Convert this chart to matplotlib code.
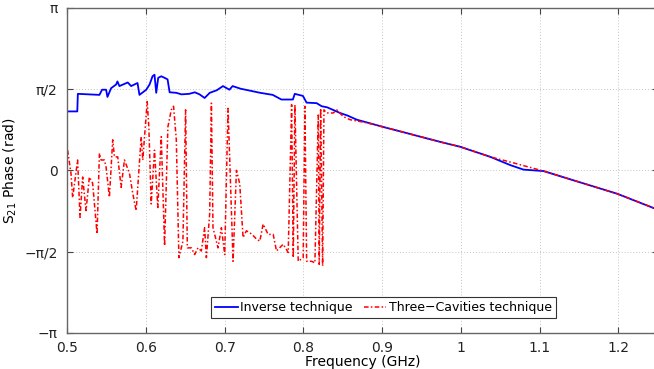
"""S21 phase: inverse technique vs three-cavities technique."""

import matplotlib.pyplot as plt
import numpy as np

# Inverse technique (GHz, rad)
inv_freq_ghz = [
    0.500, 0.5127, 0.5134, 0.5408, 0.5442, 0.5493, 0.5510, 0.5557, 0.5620,
    0.5637, 0.5662, 0.5768, 0.5811, 0.5892, 0.5917, 0.6003, 0.6045, 0.6083,
    0.6108, 0.6130, 0.6155, 0.6194, 0.6236, 0.6274, 0.6300, 0.6385, 0.6450,
    0.6550, 0.6620, 0.6680, 0.6745, 0.6810, 0.6900, 0.6978, 0.7060, 0.7100,
    0.7200, 0.7357, 0.7450, 0.7610, 0.7720, 0.7866, 0.7890, 0.7994, 0.8040,
    0.8168, 0.8232, 0.8300, 0.8376, 0.8465, 0.8560, 0.8678, 0.9013, 0.9739,
    0.9994, 1.0376, 1.0630, 1.0796, 1.1050, 1.1990, 1.2500,
]
inv_phase_rad = [
    1.14, 1.14, 1.48, 1.46, 1.56, 1.56, 1.42, 1.59, 1.66,
    1.72, 1.63, 1.70, 1.63, 1.69, 1.46, 1.56, 1.66, 1.82,
    1.85, 1.50, 1.79, 1.82, 1.79, 1.76, 1.51, 1.50, 1.47,
    1.48, 1.51, 1.47, 1.40, 1.50, 1.55, 1.63, 1.56, 1.63,
    1.58, 1.53, 1.50, 1.46, 1.37, 1.37, 1.48, 1.44, 1.31,
    1.30, 1.24, 1.22, 1.17, 1.11, 1.06, 0.98, 0.84, 0.55,
    0.455, 0.26, 0.10, 0.014, -0.014, -0.455, -0.76,
]

# Three-cavities technique (GHz, rad)
cav_freq_ghz = [
    0.5004, 0.5047, 0.5068, 0.5131, 0.5162, 0.5195, 0.5238, 0.5280, 0.5322,
    0.5378, 0.5408, 0.5429, 0.5471, 0.5493, 0.5535, 0.5577, 0.5599, 0.5641,
    0.5684, 0.5726, 0.5790, 0.5832, 0.5875, 0.5939, 0.5959, 0.6015, 0.6036,
    0.6066, 0.6108, 0.6150, 0.6194, 0.6236, 0.6278, 0.6321, 0.6350, 0.6385,
    0.6418, 0.6469, 0.6503, 0.6525, 0.6576, 0.6618, 0.6660, 0.6703, 0.6745,
    0.6767, 0.6809, 0.6831, 0.6851, 0.6915, 0.6958, 0.7000, 0.7042, 0.7064,
    0.7106, 0.7149, 0.7191, 0.7233, 0.7276, 0.7340, 0.7404, 0.7446, 0.7488,
    0.7552, 0.7616, 0.7658, 0.7743, 0.7807, 0.7850, 0.7871, 0.7892, 0.7934,
    0.7997, 0.8019, 0.8041, 0.8104, 0.8146, 0.8189, 0.8201, 0.8219, 0.8244,
    0.8261, 0.8296, 0.8380, 0.8423, 0.8507, 0.8592, 0.8805, 0.9013, 0.9739,
    0.9994, 1.0376, 1.0630, 1.1050, 1.1990, 1.2500,
]
cav_phase_rad = [
    0.39, -0.06, -0.53, 0.20, -0.91, -0.13, -0.78, -0.13, -0.25,
    -1.23, 0.33, 0.20, 0.20, 0.06, -0.52, 0.59, 0.26, 0.26,
    -0.33, 0.20, -0.06, -0.45, -0.78, 0.65, 0.20, 1.33, 0.84,
    -0.65, 0.39, -0.72, 0.65, -1.46, 0.84, 1.17, 1.24, 0.59,
    -1.69, -1.37, 1.17, -1.50, -1.50, -1.63, -1.50, -1.56, -1.11,
    -1.69, -0.84, 1.30, -1.11, -1.50, -1.11, -1.63, 1.20, 0.20,
    -1.76, 0.00, -0.26, -1.30, -1.17, -1.23, -1.33, -1.37, -1.04,
    -1.24, -1.24, -1.56, -1.43, -1.59, 1.27, -1.69, 1.27, -1.76,
    -1.69, 1.24, -1.76, -1.76, -1.79, 1.07, -1.82, 1.20, -1.85,
    1.17, 1.11, 1.11, 1.17, 1.04, 0.98, 0.92, 0.84, 0.55,
    0.455, 0.26, 0.16, -0.014, -0.455, -0.76,
]

y_ticks = [-np.pi, -np.pi / 2, 0, np.pi / 2, np.pi]
y_tick_labels = ["\u2212\u03c0", "\u2212\u03c0/2", "0", "\u03c0/2", "\u03c0"]
x_ticks = [0.5, 0.6, 0.7, 0.8, 0.9, 1.0, 1.1, 1.2]
x_tick_labels = ["0.5", "0.6", "0.7", "0.8", "0.9", "1", "1.1", "1.2"]

plt.rcParams["font.family"] = ["DejaVu Sans"]
plt.rcParams["font.size"] = 10

fig = plt.figure(figsize=(6.54, 3.69), dpi=100)
ax = fig.add_axes([0.1029, 0.0984, 0.9026, 0.880])

ax.plot(inv_freq_ghz, inv_phase_rad, color="blue", lw=1.3,
        label="Inverse technique")
ax.plot(cav_freq_ghz, cav_phase_rad, color="red", lw=1.1, linestyle="-.",
        dashes=(3, 1.5, 1, 1.5), label="Three\u2212Cavities technique")

ax.set_xlim(0.5, 1.25)
ax.set_ylim(-np.pi, np.pi)
ax.set_xticks(x_ticks)
ax.set_xticklabels(x_tick_labels)
ax.set_yticks(y_ticks)
ax.set_yticklabels(y_tick_labels)

ax.grid(True, linestyle=(0, (1, 2)), color="#c4c4c4", lw=0.7)
ax.tick_params(direction="in", length=4, color="#444444", top=True,
               right=True, labelcolor="#222222")
ax.tick_params(axis="y", pad=7)
ax.tick_params(axis="x", pad=6)
for spine in ax.spines.values():
    spine.set_color("#666666")
    spine.set_linewidth(1.0)

ax.set_xlabel("Frequency (GHz)", labelpad=0)
ax.set_ylabel("S$_{21}$ Phase (rad)", labelpad=4)

leg = ax.legend(loc="lower center", bbox_to_anchor=(0.5357, 0.025), ncol=2,
                fancybox=False, framealpha=1, edgecolor="#333333",
                fontsize=9, handlelength=1.8, handletextpad=0.2,
                columnspacing=0.9, borderpad=0.35)
leg.get_frame().set_linewidth(0.8)

fig.savefig("out.png", dpi=100)
